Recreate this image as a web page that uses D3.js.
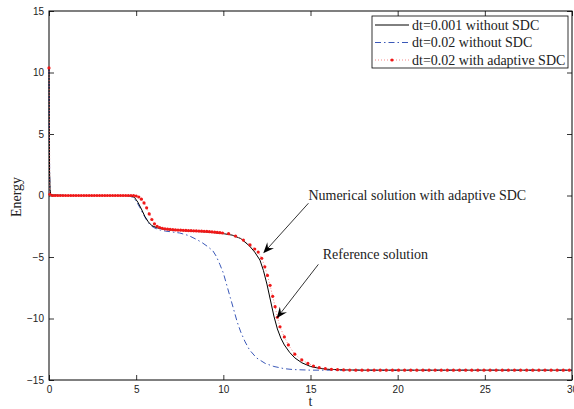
<!DOCTYPE html>
<html><head><meta charset="utf-8">
<script src="https://cdn.jsdelivr.net/npm/d3@7"></script>
<style>body{margin:0;background:#fff}svg{display:block}</style>
</head><body>
<svg id="c" width="574" height="409"></svg>
<script>
// ---- data ----
const xTicks = [0, 5, 10, 15, 20, 25, 30];
const yTicks = [-15, -10, -5, 0, 5, 10, 15];
const seriesNames = ["dt=0.001 without SDC", "dt=0.02 without SDC", "dt=0.02 with adaptive SDC"];

const refT = [0, 0.01, 0.03, 0.06, 0.1, 1, 2, 3, 4, 4.4, 4.7, 4.9, 5.1, 5.3, 5.5, 5.7, 5.9, 6.2, 6.6, 7.0, 7.5, 8.0, 8.5, 9.0, 9.5, 10.0, 10.5, 11.0, 11.5, 11.8, 12.1, 12.3, 12.5, 12.7, 12.9, 13.1, 13.3, 13.5, 13.8, 14.1, 14.5, 15.0, 15.5, 16, 17, 18, 20, 25, 30];
const refE = [10.3, 6, 2, 0.5, 0.05, 0, 0, 0, 0, -0.01, -0.03, -0.15, -0.55, -1.1, -1.7, -2.15, -2.45, -2.63, -2.74, -2.8, -2.84, -2.88, -2.92, -2.96, -3.02, -3.1, -3.22, -3.5, -4.1, -4.6, -5.25, -6.1, -7.2, -8.5, -9.8, -10.85, -11.6, -12.15, -12.75, -13.2, -13.6, -13.9, -14.05, -14.13, -14.18, -14.2, -14.2, -14.2, -14.2];

const coarseT = [0, 0.02, 0.04, 0.06, 0.1, 1, 2, 3, 4, 4.3, 4.6, 4.8, 5.0, 5.2, 5.4, 5.6, 5.8, 6.0, 6.3, 6.7, 7.0, 7.5, 8.0, 8.5, 8.8, 9.1, 9.4, 9.6, 9.8, 10.0, 10.2, 10.4, 10.6, 10.8, 11.0, 11.25, 11.5, 11.9, 12.4, 12.9, 13.5, 14.0, 15, 30];
const coarseE = [10.3, 5.0, 1.5, 0.3, 0.05, 0, 0, 0, 0, -0.01, -0.03, -0.15, -0.45, -0.95, -1.5, -2.0, -2.4, -2.6, -2.78, -2.9, -2.95, -3.05, -3.25, -3.6, -3.85, -4.15, -4.5, -4.95, -5.6, -6.3, -7.3, -8.3, -9.3, -10.3, -11.1, -11.9, -12.55, -13.2, -13.65, -13.9, -14.08, -14.15, -14.2, -14.2];

const sdcT = [0, 0.05, 0.2, 0.35, 0.5, 0.65, 0.8, 0.95, 1.1, 1.25, 1.4, 1.55, 1.7, 1.85, 2.0, 2.15, 2.3, 2.45, 2.6, 2.75, 2.9, 3.05, 3.2, 3.35, 3.5, 3.65, 3.8, 3.95, 4.1, 4.25, 4.4, 4.55, 4.7,
  4.85, 5.0, 5.15, 5.3, 5.45, 5.6, 5.75, 5.9, 6.05, 6.2, 6.35, 6.5, 6.65, 6.8, 6.95, 7.1, 7.25, 7.4, 7.55, 7.7, 7.85, 8.0, 8.15, 8.3, 8.45, 8.6, 8.75, 8.9, 9.05, 9.2, 9.35, 9.5, 9.65, 9.8, 9.95,
  10.3, 10.7, 11.15, 11.53, 11.8, 12.0, 12.2, 12.38, 12.53, 12.68, 12.83, 12.97, 13.1, 13.25, 13.5, 13.73, 14.1, 14.5, 14.85, 15.17, 15.5, 15.85, 16.2, 16.55,
  16.9, 17.25, 17.6, 17.95, 18.3, 18.65, 19.0, 19.35, 19.7, 20.05, 20.4, 20.75, 21.1, 21.45, 21.8, 22.15, 22.5, 22.85, 23.2, 23.55, 23.9, 24.25, 24.6, 24.95, 25.3, 25.65, 26.0, 26.35, 26.7, 27.05, 27.4, 27.75, 28.1, 28.45, 28.8, 29.15, 29.5, 29.85];
const sdcE = [10.37, 0.1, 0, 0, 0, 0, 0, 0, 0, 0, 0, 0, 0, 0, 0, 0, 0, 0, 0, 0, 0, 0, 0, 0, 0, 0, 0, 0, 0, 0, 0, 0, 0,
  -0.01, -0.04, -0.12, -0.3, -0.6, -1.0, -1.5, -1.95, -2.3, -2.5, -2.6, -2.67, -2.71, -2.74, -2.76, -2.78, -2.8, -2.81, -2.82, -2.83, -2.84, -2.85, -2.86, -2.87, -2.88, -2.89, -2.9, -2.91, -2.92, -2.94, -2.96, -2.98, -3.0, -3.02, -3.05,
  -3.1, -3.3, -3.62, -4.02, -4.35, -4.6, -5.1, -5.8, -6.5, -7.3, -8.2, -9.04, -9.9, -10.67, -11.5, -12.15, -12.9, -13.37, -13.65, -13.86, -14.0, -14.08, -14.13, -14.16,
  -14.18, -14.19, -14.2, -14.2, -14.2, -14.2, -14.2, -14.2, -14.2, -14.2, -14.2, -14.2, -14.2, -14.2, -14.2, -14.2, -14.2, -14.2, -14.2, -14.2, -14.2, -14.2, -14.2, -14.2, -14.2, -14.2, -14.2, -14.2, -14.2, -14.2, -14.2, -14.2, -14.2, -14.2, -14.2, -14.2, -14.2, -14.2];

const annotations = [
  {text: "Numerical solution with adaptive SDC", tx: 14.88, ty: -0.4, fromT: 14.88, fromE: -0.63, toT: 12.29, toE: -4.7},
  {text: "Reference solution", tx: 15.7, ty: -5.2, fromT: 15.45, fromE: -5.6, toT: 13.06, toE: -9.98}
];

// ---- layout ----
const svg = d3.select("#c");
const L = 49, T = 11, R = 572, B = 380;
const x = d3.scaleLinear().domain([0, 30]).range([L, R]);
const y = d3.scaleLinear().domain([-15, 15]).range([B, T]);
const serif = "'Liberation Serif','Times New Roman',serif";
const sans = "'Liberation Sans',Arial,Helvetica,sans-serif";

const tl = 5;
const g = svg.append("g");
function axisStyle(sel) {
  sel.selectAll(".domain").remove();
  sel.selectAll("line").attr("stroke", "#000").attr("stroke-width", 0.8);
  sel.selectAll("text").attr("font-family", sans).attr("font-size", 10).attr("fill", "#222");
}
g.append("g").attr("transform", `translate(0,${B})`)
  .call(d3.axisBottom(x).tickValues(xTicks).tickSizeInner(-tl).tickSizeOuter(0).tickPadding(6).tickFormat(d3.format("d")))
  .call(axisStyle);
g.append("g").attr("transform", `translate(0,${T})`)
  .call(d3.axisTop(x).tickValues(xTicks).tickSizeInner(-tl).tickSizeOuter(0).tickFormat(""))
  .call(axisStyle);
g.append("g").attr("transform", `translate(${L},0)`)
  .call(d3.axisLeft(y).tickValues(yTicks).tickSizeInner(-tl).tickSizeOuter(0).tickPadding(5).tickFormat(d => d3.format("d")(d).replace("-", "\u2212")))
  .call(axisStyle);
g.append("g").attr("transform", `translate(${R},0)`)
  .call(d3.axisRight(y).tickValues(yTicks).tickSizeInner(-tl).tickSizeOuter(0).tickFormat(""))
  .call(axisStyle);

svg.append("rect").attr("x", L).attr("y", T).attr("width", R - L).attr("height", B - T)
  .attr("fill", "none").attr("stroke", "#000").attr("stroke-width", 1);

svg.append("clipPath").attr("id", "clip").append("rect").attr("x", L - 2).attr("y", T).attr("width", R - L + 2).attr("height", B - T);
const plot = svg.append("g").attr("clip-path", "url(#clip)");

const line = d3.line().x(d => x(d[0])).y(d => y(d[1]));
const blueCol = "#3a58b8", redCol = "#f01818";

plot.append("path").datum(d3.zip(coarseT, coarseE)).attr("d", line)
  .attr("fill", "none").attr("stroke", blueCol).attr("stroke-width", 1).attr("stroke-dasharray", "6,3,1.5,3");
plot.append("path").datum(d3.zip(refT, refE)).attr("d", line)
  .attr("fill", "none").attr("stroke", "#000").attr("stroke-width", 1);
plot.append("path").datum(d3.zip(sdcT, sdcE)).attr("d", line)
  .attr("fill", "none").attr("stroke", "#f56a6a").attr("stroke-width", 0.8).attr("stroke-dasharray", "1,2");
plot.selectAll("circle.sdc").data(d3.zip(sdcT, sdcE)).join("circle").attr("class", "sdc")
  .attr("cx", d => x(d[0])).attr("cy", d => y(d[1])).attr("r", 1.6).attr("fill", redCol);

// axis labels
svg.append("text").attr("transform", "translate(21,197) rotate(-90)").attr("text-anchor", "middle")
  .attr("font-family", serif).attr("font-size", 14).attr("fill", "#222").text("Energy");
svg.append("text").attr("x", (L + R) / 2).attr("y", 406).attr("text-anchor", "middle")
  .attr("font-family", serif).attr("font-size", 14).attr("fill", "#222").text("t");

// annotations
annotations.forEach(a => {
  const x0 = x(a.fromT), y0 = y(a.fromE), x1 = x(a.toT), y1 = y(a.toE);
  const ang = Math.atan2(y1 - y0, x1 - x0);
  const hl = 11, hw = 4.5, back = 7;
  const bx = x1 - hl * Math.cos(ang), by = y1 - hl * Math.sin(ang);
  const nx = -Math.sin(ang), ny = Math.cos(ang);
  const mx = x1 - back * Math.cos(ang), my = y1 - back * Math.sin(ang);
  svg.append("line").attr("x1", x0).attr("y1", y0).attr("x2", mx).attr("y2", my)
    .attr("stroke", "#000").attr("stroke-width", 0.8);
  svg.append("path").attr("d", `M${x1},${y1}L${bx + nx * hw},${by + ny * hw}L${mx},${my}L${bx - nx * hw},${by - ny * hw}Z`)
    .attr("fill", "#000");
  svg.append("text").attr("x", x(a.tx)).attr("y", y(a.ty)).attr("font-family", serif).attr("font-size", 14)
    .attr("fill", "#222").text(a.text);
});

// legend
const lg = svg.append("g");
lg.append("rect").attr("x", 372).attr("y", 16).attr("width", 196).attr("height", 52)
  .attr("fill", "#fff").attr("stroke", "#000").attr("stroke-width", 0.8);
const rows = [25, 42.5, 60];
const styles = [
  {stroke: "#000", dash: null},
  {stroke: blueCol, dash: "6,3,1.5,3"},
  {stroke: "#f56a6a", dash: "1,2"}
];
seriesNames.forEach((n, i) => {
  lg.append("line").attr("x1", 375).attr("x2", 409).attr("y1", rows[i]).attr("y2", rows[i])
    .attr("stroke", styles[i].stroke).attr("stroke-width", i === 2 ? 0.8 : 1).attr("stroke-dasharray", styles[i].dash);
  if (i === 2) lg.append("circle").attr("cx", 392).attr("cy", rows[i]).attr("r", 1.6).attr("fill", redCol);
  lg.append("text").attr("x", 412).attr("y", rows[i] + 4.5).attr("font-family", serif).attr("font-size", 14)
    .attr("fill", "#222").text(n);
});
</script>
</body></html>
